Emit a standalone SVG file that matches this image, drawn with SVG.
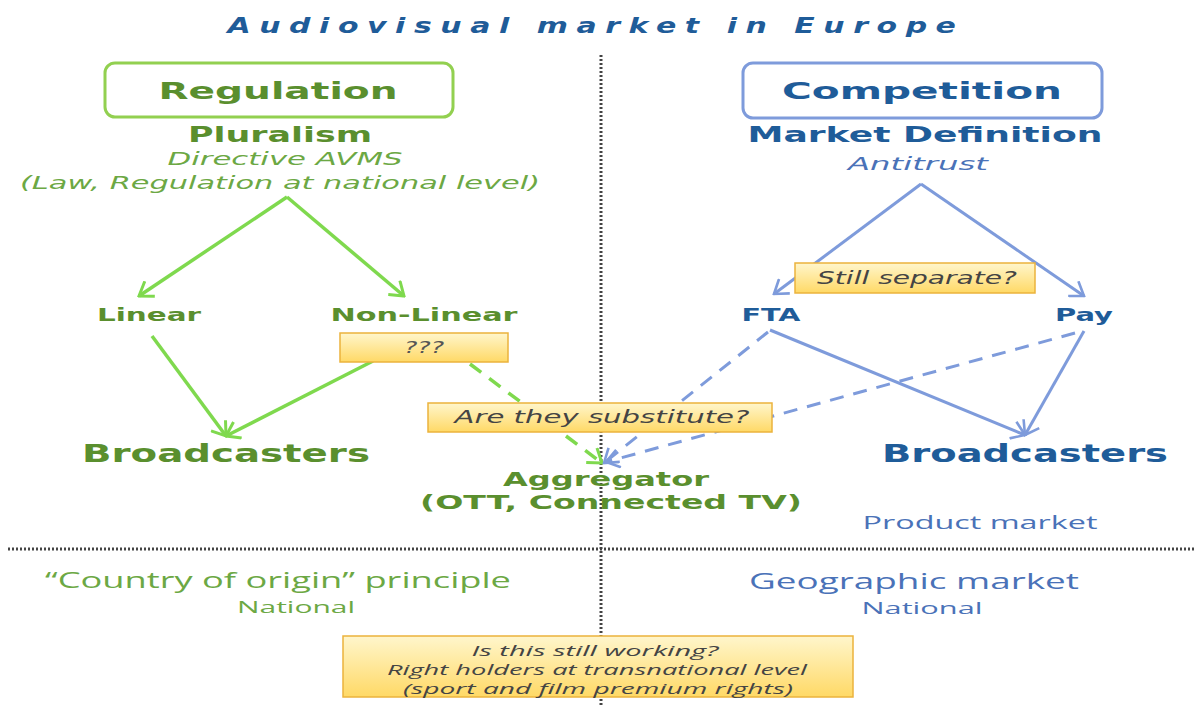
<svg xmlns="http://www.w3.org/2000/svg" width="1200" height="705" viewBox="0 0 1200 705">
<defs>
<linearGradient id="yel" x1="0" y1="0" x2="0" y2="1">
<stop offset="0" stop-color="#FFF6CC"/><stop offset="1" stop-color="#FFD966"/>
</linearGradient>
<marker id="ag" viewBox="-14 -10 16 20" refX="0" refY="0" markerWidth="16" markerHeight="20" orient="auto" markerUnits="userSpaceOnUse">
<path d="M-13,-9 L0,0 L-13,9" fill="none" stroke="#7FD94E" stroke-width="3"/>
</marker>
<marker id="ab" viewBox="-14 -10 16 20" refX="0" refY="0" markerWidth="16" markerHeight="20" orient="auto" markerUnits="userSpaceOnUse">
<path d="M-13,-9 L0,0 L-13,9" fill="none" stroke="#7E9BDB" stroke-width="2.6"/>
</marker>
</defs>
<style>
.t{font-family:"DejaVu Sans",Verdana,sans-serif;text-anchor:middle}
.b{font-weight:bold}
.i{font-style:italic}
.g{fill:#5A8F2E}
.lg{fill:#6CA844}
.bl{fill:#1F5C99}
.lb{fill:#4A72B8}
.c{font-family:"Open Sans",Lato,sans-serif;text-anchor:middle}
.gl{stroke:#7FD94E;stroke-width:3.5;fill:none}
.bln{stroke:#7E9BDB;stroke-width:3;fill:none}
.box{fill:url(#yel);stroke:#EBB33D;stroke-width:1.5}
.dot{stroke:#444;stroke-width:3;stroke-dasharray:2 2;fill:none}
</style>
<rect width="1200" height="705" fill="#fff"/>
<g id="dividers">
<line class="dot" x1="601" y1="55" x2="601" y2="705"/>
<line class="dot" x1="8" y1="549" x2="1195" y2="549"/>
</g>
<text id="title" class="t b i" x="596" y="33" font-size="21" letter-spacing="6" textLength="737" lengthAdjust="spacingAndGlyphs" fill="#1F5C99">Audiovisual market in Europe</text>
<g id="connectors">
<line class="gl" x1="287" y1="197" x2="139" y2="296" marker-end="url(#ag)"/>
<line class="gl" x1="287" y1="197" x2="404" y2="296" marker-end="url(#ag)"/>
<line class="gl" x1="152" y1="336" x2="226" y2="436" marker-end="url(#ag)"/>
<line class="gl" x1="373" y1="361" x2="226" y2="436" marker-end="url(#ag)"/>
<line class="gl" x1="470" y1="364" x2="602" y2="463" stroke-dasharray="14 10" marker-end="url(#ag)"/>
<line class="bln" x1="921" y1="184" x2="774" y2="294" marker-end="url(#ab)"/>
<line class="bln" x1="921" y1="184" x2="1084" y2="296" marker-end="url(#ab)"/>
<line class="bln" x1="770" y1="330" x2="1025" y2="435" marker-end="url(#ab)"/>
<line class="bln" x1="1084" y1="331" x2="1025" y2="435" marker-end="url(#ab)"/>
<line class="bln" x1="768" y1="332" x2="604" y2="463" stroke-dasharray="14 10" marker-end="url(#ab)"/>
<line class="bln" x1="1075" y1="333" x2="606" y2="462" stroke-dasharray="14 10" marker-end="url(#ab)"/>
</g>
<g id="regulation">
<rect x="105" y="63" width="348" height="54" rx="10" fill="#fff" stroke="#92D050" stroke-width="3"/>
<text class="t b g" x="278" y="99" font-size="23" textLength="239" lengthAdjust="spacingAndGlyphs">Regulation</text>
</g>
<g id="pluralism">
<text class="t b g" x="280" y="142" font-size="22" textLength="184" lengthAdjust="spacingAndGlyphs">Pluralism</text>
<text class="t i lg" x="285" y="165" font-size="17" textLength="235" lengthAdjust="spacingAndGlyphs">Directive AVMS</text>
<text class="t i lg" x="280" y="189" font-size="17" textLength="520" lengthAdjust="spacingAndGlyphs">(Law, Regulation at national level)</text>
</g>
<g id="competition">
<rect x="743" y="63" width="359" height="55" rx="10" fill="#fff" stroke="#7E9BDB" stroke-width="3"/>
<text class="t b bl" x="922" y="99" font-size="23" textLength="280" lengthAdjust="spacingAndGlyphs">Competition</text>
</g>
<g id="market-definition">
<text class="t b bl" x="925" y="142" font-size="22" textLength="355" lengthAdjust="spacingAndGlyphs">Market Definition</text>
<text class="t i lb" x="918" y="170" font-size="17" textLength="140" lengthAdjust="spacingAndGlyphs">Antitrust</text>
</g>
<g id="linear"><text class="t b g" x="149" y="321" font-size="17" textLength="104" lengthAdjust="spacingAndGlyphs">Linear</text></g>
<g id="non-linear"><text class="t b g" x="424" y="321" font-size="17" textLength="187" lengthAdjust="spacingAndGlyphs">Non-Linear</text></g>
<g id="q-box">
<rect class="box" x="340" y="333" width="168" height="29"/>
<text class="t i" x="424" y="353" font-size="16" textLength="40" lengthAdjust="spacingAndGlyphs" fill="#555">???</text>
</g>
<g id="broadcasters-left"><text class="t b g" x="226" y="462" font-size="24" textLength="288" lengthAdjust="spacingAndGlyphs">Broadcasters</text></g>
<g id="substitute-box">
<rect class="box" x="428" y="403" width="344" height="29"/>
<text class="t i" x="602" y="423" font-size="17" textLength="295" lengthAdjust="spacingAndGlyphs" fill="#444">Are they substitute?</text>
</g>
<g id="aggregator">
<text class="t b g" x="606" y="486" font-size="20" textLength="206" lengthAdjust="spacingAndGlyphs">Aggregator</text>
<text class="t b g" x="611" y="509" font-size="20" textLength="382" lengthAdjust="spacingAndGlyphs">(OTT, Connected TV)</text>
</g>
<g id="separate-box">
<rect class="box" x="795" y="263" width="240" height="30"/>
<text class="t i" x="917" y="284" font-size="17" textLength="200" lengthAdjust="spacingAndGlyphs" fill="#444">Still separate?</text>
</g>
<g id="fta"><text class="t b bl" x="771" y="321" font-size="17" textLength="59" lengthAdjust="spacingAndGlyphs">FTA</text></g>
<g id="pay"><text class="t b bl" x="1084" y="321" font-size="17" textLength="58" lengthAdjust="spacingAndGlyphs">Pay</text></g>
<g id="broadcasters-right"><text class="t b bl" x="1025" y="462" font-size="24" textLength="286" lengthAdjust="spacingAndGlyphs">Broadcasters</text></g>
<g id="product-market"><text class="c lb" x="980" y="529" font-size="19" textLength="235" lengthAdjust="spacingAndGlyphs">Product market</text></g>
<g id="country-origin">
<text class="c lg" x="278" y="588" font-size="21" textLength="466" lengthAdjust="spacingAndGlyphs">“Country of origin” principle</text>
<text class="c lg" x="296" y="613" font-size="17" textLength="118" lengthAdjust="spacingAndGlyphs">National</text>
</g>
<g id="geographic">
<text class="c lb" x="914" y="589" font-size="21" textLength="330" lengthAdjust="spacingAndGlyphs">Geographic market</text>
<text class="c lb" x="922" y="614" font-size="17" textLength="121" lengthAdjust="spacingAndGlyphs">National</text>
</g>
<g id="working-box">
<rect class="box" x="343" y="636" width="510" height="61"/>
<text class="c i" x="595" y="656" font-size="15" textLength="247" lengthAdjust="spacingAndGlyphs" fill="#444">Is this still working?</text>
<text class="c i" x="597" y="675" font-size="15" textLength="420" lengthAdjust="spacingAndGlyphs" fill="#444">Right holders at transnational level</text>
<text class="c i" x="598" y="694" font-size="15" textLength="390" lengthAdjust="spacingAndGlyphs" fill="#444">(sport and film premium rights)</text>
</g>
</svg>
